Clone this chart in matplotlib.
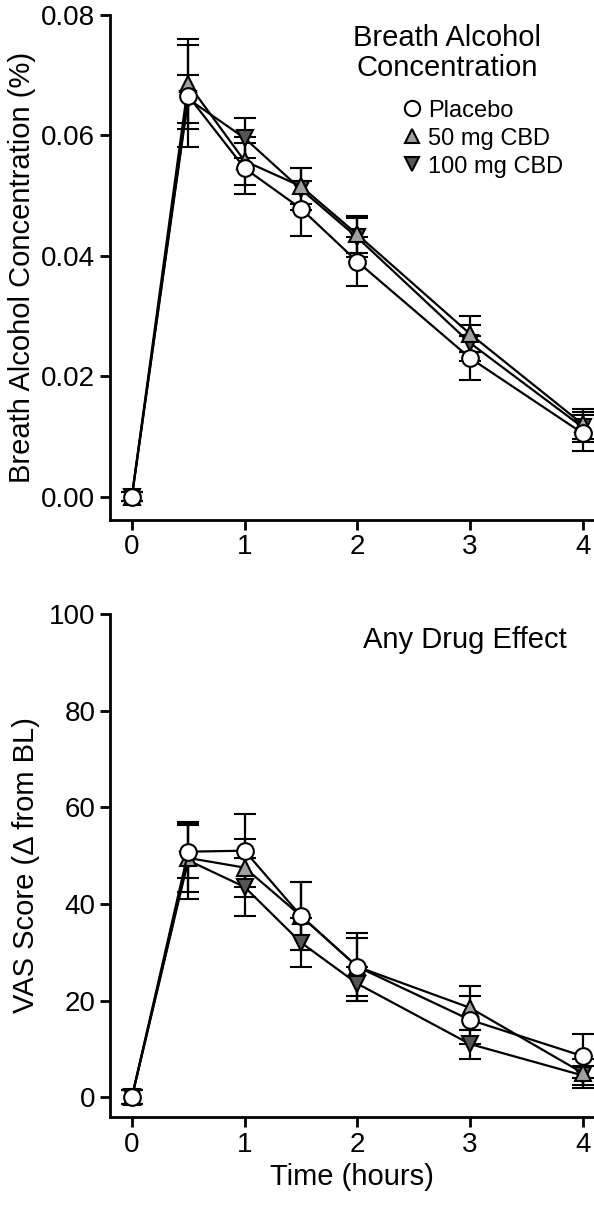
import matplotlib
matplotlib.use("Agg")
import matplotlib.pyplot as plt
from matplotlib.lines import Line2D

plt.rcParams['font.family'] = ['Liberation Sans', 'DejaVu Sans']

time = [0, 0.5, 1, 1.5, 2, 3, 4]
labels = ["Placebo", "50 mg CBD", "100 mg CBD"]

bac_placebo = [0, 0.0665, 0.0545, 0.0478, 0.039, 0.023, 0.0105]
bac_placebo_err = [0.0008, 0.0085, 0.0042, 0.0045, 0.004, 0.0036, 0.003]
bac_50 = [0, 0.0685, 0.0557, 0.0515, 0.0435, 0.027, 0.012]
bac_50_err = [0.0008, 0.0075, 0.004, 0.003, 0.003, 0.003, 0.0025]
bac_100 = [0, 0.066, 0.0595, 0.051, 0.043, 0.0255, 0.0115]
bac_100_err = [0.0008, 0.004, 0.0033, 0.0035, 0.0033, 0.003, 0.0025]

vas_placebo = [0, 50.8, 51, 37.5, 27, 16, 8.5]
vas_placebo_err = [1.5, 5.5, 7.5, 7, 7, 5, 4.5]
vas_50 = [0, 49.5, 47.5, 37.5, 27, 18.5, 5]
vas_50_err = [1.5, 7, 6, 7, 6, 4.5, 3]
vas_100 = [0, 49, 43.5, 32, 23.5, 11, 4.5]
vas_100_err = [1.5, 8, 6, 5, 3.5, 3, 2]

styles = [dict(marker='o', mfc='white', ms=12),
          dict(marker='^', mfc='#a0a0a0', ms=11),
          dict(marker='v', mfc='#555555', ms=11)]

fig = plt.figure(figsize=(5.94, 12.11), dpi=100)
ax1 = fig.add_axes([0.185, 0.571, 0.815, 0.417])
ax2 = fig.add_axes([0.185, 0.0776, 0.815, 0.4155])

narrow = ['Liberation Sans Narrow', 'Liberation Sans', 'DejaVu Sans']

def draw(ax, series):
    for (y, e), st, lab in zip(reversed(series), reversed(styles), reversed(labels)):
        ax.errorbar(time, y, yerr=e, color='black', mec='black', mew=1.5, lw=1.6,
                    capsize=8, capthick=1.6, elinewidth=1.6, label=lab, **st)
    for s in ['top', 'right']:
        ax.spines[s].set_visible(False)
    for s in ['left', 'bottom']:
        ax.spines[s].set_linewidth(2)
    ax.tick_params(width=2, length=7, labelsize=20)
    ax.set_xlim(-0.195, 4.10)
    ax.set_xticks([0, 1, 2, 3, 4])

draw(ax1, [(bac_placebo, bac_placebo_err), (bac_50, bac_50_err), (bac_100, bac_100_err)])
ax1.set_ylim(-0.0038, 0.08)
ax1.set_yticks([0, 0.02, 0.04, 0.06, 0.08])
ax1.set_yticklabels(['0.00', '0.02', '0.04', '0.06', '0.08'])
ax1.set_ylabel('Breath Alcohol Concentration (%)', fontsize=21, family=narrow, labelpad=4)
ax1.text(2.8, 0.0785, 'Breath Alcohol\nConcentration', fontsize=21, ha='center', va='top', linespacing=1.1)
handles = [Line2D([], [], ls='none', color='black', mec='black', mew=1.5,
                  **{**st, 'ms': st['ms'] - 1}) for st in styles]
ax1.legend(handles, labels, loc='upper left', bbox_to_anchor=(0.58, 0.85), frameon=False,
           fontsize=17, handletextpad=0.2, handlelength=1.0, labelspacing=0.25, borderaxespad=0)

draw(ax2, [(vas_placebo, vas_placebo_err), (vas_50, vas_50_err), (vas_100, vas_100_err)])
ax2.set_ylim(-4.1, 100)
ax2.set_yticks([0, 20, 40, 60, 80, 100])
ax2.set_ylabel('VAS Score (Δ from BL)', fontsize=21, family=narrow, labelpad=6)
ax2.set_xlabel('Time (hours)', fontsize=21)
ax2.text(2.95, 97.5, 'Any Drug Effect', fontsize=21, ha='center', va='top')

fig.savefig('out.png', dpi=100)
